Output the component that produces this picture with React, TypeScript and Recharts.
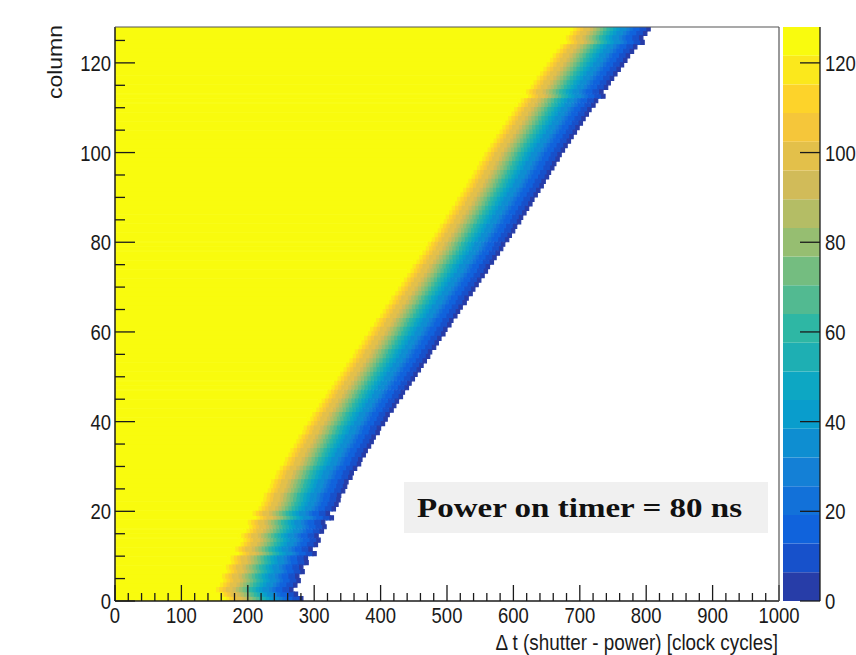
import { Bar, BarChart, XAxis, YAxis } from "recharts";

// right-hand edge (last filled Δt) of every column row, rows 0..127
const EDGE = [
  283, 275, 268, 274, 279, 277, 285, 283, 291, 290,
  303, 297, 305, 309, 306, 314, 318, 316, 329, 323,
  332, 336, 339, 340, 346, 349, 351, 357, 359, 364,
  370, 372, 377, 380, 385, 389, 392, 398, 400, 406,
  410, 413, 419, 423, 427, 433, 436, 442, 446, 451,
  455, 460, 464, 469, 474, 477, 483, 487, 491, 497,
  500, 506, 509, 515, 519, 523, 529, 532, 538, 542,
  547, 551, 556, 561, 564, 570, 574, 579, 584, 587,
  593, 597, 602, 605, 611, 614, 619, 623, 628, 631,
  636, 640, 645, 648, 653, 656, 661, 664, 669, 672,
  677, 681, 686, 690, 695, 699, 704, 708, 713, 717,
  723, 727, 738, 735, 742, 746, 751, 756, 761, 766,
  771, 775, 781, 786, 797, 795, 801, 806,
];

// counts in the 5-cycle slices just before the edge (left to right)
const PROFILE = [
  124, 119, 114, 108, 102, 96, 90, 84, 78, 72, 66, 60,
  54, 48, 43, 38, 33, 28, 23, 19, 15, 11, 7, 3,
];
const STEP = 5;
const FULL = 128;

const Z_LEVELS = [
  0, 6.4, 12.8, 19.2, 25.6, 32, 38.4, 44.8, 51.2, 57.6, 64,
  70.4, 76.8, 83.2, 89.6, 96, 102.4, 108.8, 115.2, 121.6, 128,
];
const X_TICKS = [
  0, 20, 40, 60, 80, 100, 120, 140, 160, 180, 200, 220, 240, 260, 280,
  300, 320, 340, 360, 380, 400, 420, 440, 460, 480, 500, 520, 540, 560,
  580, 600, 620, 640, 660, 680, 700, 720, 740, 760, 780, 800, 820, 840,
  860, 880, 900, 920, 940, 960, 980, 1000,
];
const Y_TICKS = [
  0, 5, 10, 15, 20, 25, 30, 35, 40, 45, 50, 55, 60, 65, 70, 75, 80, 85,
  90, 95, 100, 105, 110, 115, 120, 125,
];
const Z_TICKS = [0, 20, 40, 60, 80, 100, 120];

const FONT = "'Liberation Sans', Arial, Helvetica, sans-serif";
const SQ = 0.84; // the original is a bit squashed horizontally
const INK = "#1a1a1a";

// ROOT kBird palette
const BIRD_STOPS = [0, 0.125, 0.25, 0.375, 0.5, 0.625, 0.75, 0.875, 1];
const BIRD_R = [0.2082, 0.0592, 0.078, 0.0232, 0.1802, 0.5301, 0.8186, 0.9956, 0.9764];
const BIRD_G = [0.1664, 0.3599, 0.5041, 0.6419, 0.7178, 0.7492, 0.7328, 0.7862, 0.9832];
const BIRD_B = [0.5293, 0.8684, 0.8385, 0.7914, 0.6425, 0.4662, 0.3499, 0.1968, 0.0539];

function bird(t: number) {
  let k = 0;
  while (k < BIRD_STOPS.length - 2 && t > BIRD_STOPS[k + 1]) k++;
  const f = (t - BIRD_STOPS[k]) / (BIRD_STOPS[k + 1] - BIRD_STOPS[k]);
  const c = (a: number[]) => Math.round(255 * (a[k] + f * (a[k + 1] - a[k])));
  return `rgb(${c(BIRD_R)},${c(BIRD_G)},${c(BIRD_B)})`;
}

const nBands = Z_LEVELS.length - 1;
function bandIndex(v: number) {
  let i = 0;
  while (i < nBands - 1 && v >= Z_LEVELS[i + 1]) i++;
  return i;
}
function bandColor(i: number) {
  const idx = Math.floor(((i + 0.99) * 255) / nBands);
  return bird(Math.min(1, idx / 254));
}
const colorOf = (v: number) => bandColor(bandIndex(v));

const rows = EDGE.map((edge, r) => {
  const o: Record<string, number> = { y: r + 0.5, yellow: edge - PROFILE.length * STEP };
  PROFILE.forEach((_, k) => {
    o[`s${k}`] = STEP;
  });
  return o;
});

const zBar: Record<string, number | string> = { name: "z" };
Z_LEVELS.slice(1).forEach((lv, i) => {
  zBar[`b${i}`] = lv - Z_LEVELS[i];
});

function XTick({ x, y, payload }: any) {
  const v = payload.value;
  const major = v % 100 === 0;
  return (
    <g>
      <line x1={x} y1={y} x2={x} y2={y - (major ? 16 : 8)} stroke={INK} strokeWidth={1.3} />
      {major && (
        <text
          transform={`translate(${x},${y + 22}) scale(${SQ},1)`}
          textAnchor="middle"
          fontSize={22}
          fontFamily={FONT}
          fill={INK}
        >
          {v}
        </text>
      )}
    </g>
  );
}

function YTick({ x, y, payload }: any) {
  const v = payload.value;
  const major = v % 20 === 0;
  return (
    <g>
      <line x1={x} y1={y} x2={x + (major ? 20 : 10)} y2={y} stroke={INK} strokeWidth={1.3} />
      {major && (
        <text
          transform={`translate(${x - 4},${y + 8}) scale(${SQ},1)`}
          textAnchor="end"
          fontSize={22}
          fontFamily={FONT}
          fill={INK}
        >
          {v}
        </text>
      )}
    </g>
  );
}

function ZTick({ x, y, payload }: any) {
  return (
    <g>
      <line x1={x} y1={y} x2={x - 20} y2={y} stroke={INK} strokeWidth={1.3} />
      <text
        transform={`translate(${x + 5},${y + 8}) scale(${SQ},1)`}
        textAnchor="start"
        fontSize={22}
        fontFamily={FONT}
        fill={INK}
      >
        {payload.value}
      </text>
    </g>
  );
}

export default function App() {
  return (
    <div
      style={{
        position: "absolute",
        left: 0,
        top: 0,
        width: 856,
        height: 655,
        background: "#fff",
      }}
    >
      <div style={{ position: "absolute", left: 0, top: 0 }}>
        <BarChart
          width={856}
          height={655}
          data={rows}
          layout="vertical"
          barCategoryGap={0}
          barGap={0}
          margin={{ top: 27, right: 77, bottom: 0, left: 0 }}
        >
          <Bar
            dataKey="yellow"
            stackId="h"
            fill={colorOf(FULL)}
            stroke={colorOf(FULL)}
            strokeWidth={1.2}
            isAnimationActive={false}
          />
          {PROFILE.map((v, k) => (
            <Bar
              key={k}
              dataKey={`s${k}`}
              stackId="h"
              fill={colorOf(v)}
              stroke={colorOf(v)}
              strokeWidth={1.2}
              isAnimationActive={false}
            />
          ))}
          <XAxis
            type="number"
            domain={[0, 1000]}
            ticks={X_TICKS}
            interval={0}
            height={54}
            tickSize={0}
            tickMargin={0}
            tickLine={false}
            tick={<XTick />}
            axisLine={{ stroke: INK, strokeWidth: 1.5 }}
            allowDataOverflow
          />
          <YAxis
            type="number"
            dataKey="y"
            domain={[0, FULL]}
            ticks={Y_TICKS}
            interval={0}
            reversed
            width={115}
            tickSize={0}
            tickMargin={0}
            tickLine={false}
            tick={<YTick />}
            axisLine={{ stroke: INK, strokeWidth: 1.5 }}
            allowDataOverflow
          />
        </BarChart>
      </div>

      <div style={{ position: "absolute", left: 783, top: 0 }}>
        <BarChart
          width={73}
          height={655}
          data={[zBar]}
          barCategoryGap={0}
          margin={{ top: 27, right: 0, bottom: 54, left: 0 }}
        >
          {Z_LEVELS.slice(1).map((_, i) => (
            <Bar
              key={i}
              dataKey={`b${i}`}
              stackId="z"
              fill={bandColor(i)}
              isAnimationActive={false}
            />
          ))}
          <XAxis dataKey="name" hide />
          <YAxis
            orientation="right"
            type="number"
            domain={[0, FULL]}
            ticks={Z_TICKS}
            interval={0}
            width={36}
            tickSize={0}
            tickMargin={0}
            tickLine={false}
            tick={<ZTick />}
            axisLine={{ stroke: INK, strokeWidth: 1.3 }}
            allowDataOverflow
          />
        </BarChart>
      </div>

      <svg
        width={856}
        height={655}
        style={{ position: "absolute", left: 0, top: 0, pointerEvents: "none" }}
      >
        <line x1={115} y1={27} x2={779} y2={27} stroke="#555" strokeWidth={1.2} />
        <line x1={779} y1={27} x2={779} y2={601} stroke="#555" strokeWidth={1.2} />
        <text
          transform={`translate(62,25) scale(${SQ},1) rotate(-90)`}
          textAnchor="end"
          fontSize={23}
          fontFamily={FONT}
          fill={INK}
        >
          column
        </text>
        <text
          transform={`translate(778,650) scale(${SQ},1)`}
          textAnchor="end"
          fontSize={22.5}
          fontFamily={FONT}
          fill={INK}
        >
          Δ t (shutter - power) [clock cycles]
        </text>
        <rect x={404} y={482} width={364} height={51} fill="#f0f0f0" />
        <text
          x={417}
          y={517}
          fontSize={28}
          fontWeight="bold"
          fontFamily="'Liberation Serif', 'DejaVu Serif', serif"
          fill="#111"
          textLength={325}
          lengthAdjust="spacingAndGlyphs"
        >
          Power on timer = 80 ns
        </text>
      </svg>
    </div>
  );
}
